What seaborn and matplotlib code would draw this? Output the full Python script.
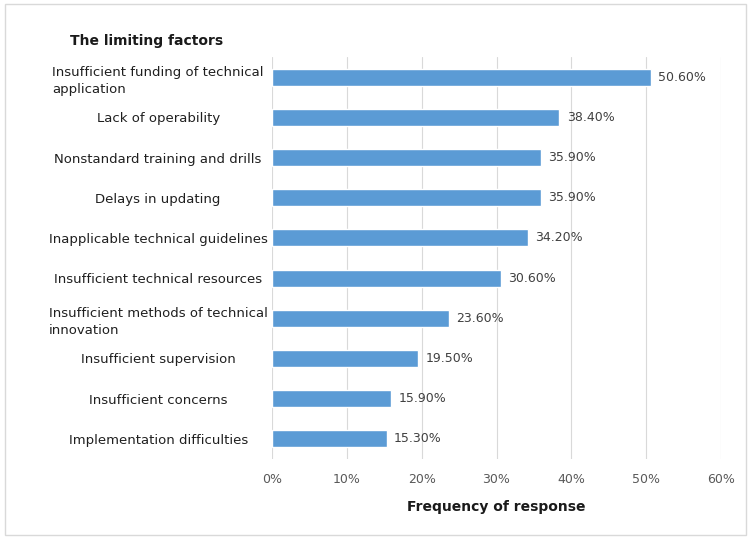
import pandas as pd
import seaborn as sns
import matplotlib.pyplot as plt
from matplotlib.patches import Rectangle

# data
factors = [
    "Insufficient funding of technical\napplication",
    "Lack of operability",
    "Nonstandard training and drills",
    "Delays in updating",
    "Inapplicable technical guidelines",
    "Insufficient technical resources",
    "Insufficient methods of technical\ninnovation",
    "Insufficient supervision",
    "Insufficient concerns",
    "Implementation difficulties",
]
freq = [50.6, 38.4, 35.9, 35.9, 34.2, 30.6, 23.6, 19.5, 15.9, 15.3]
xticks = [0, 10, 20, 30, 40, 50, 60]

df = pd.DataFrame({"factor": factors, "freq": freq})

sns.set_style("white")
plt.rcParams["font.family"] = ["DejaVu Sans"]

fig = plt.figure(figsize=(7.5, 5.41), dpi=100)
ax = fig.add_axes([0.3627, 0.1516, 0.5986, 0.743])

sns.barplot(data=df, x="freq", y="factor", orient="h", color="#5B9BD5",
            saturation=1, width=0.42, ax=ax)

ax.set_xlim(0, 60)
ax.set_xticks(xticks)
ax.set_xticklabels([f"{t}%" for t in xticks], color="#595959", fontsize=9)
ax.grid(axis="x", color="#D9D9D9", linewidth=0.8)
ax.set_axisbelow(True)
for s in ax.spines.values():
    s.set_visible(False)
ax.tick_params(axis="x", length=0, pad=10)
ax.tick_params(axis="y", length=0, pad=82)
for lab in ax.get_yticklabels():
    lab.set_horizontalalignment("center")
    lab.set_multialignment("left")
    lab.set_linespacing(1.45)
    lab.set_fontsize(9.5)
    lab.set_color("#1f1f1f")

# value labels
for i, v in enumerate(freq):
    ax.text(v + 1.0, i, f"{v:.2f}%", va="center", ha="left",
            fontsize=9, color="#404040")

ax.set_ylabel("")
ax.set_xlabel("Frequency of response", fontsize=10, fontweight="bold",
              color="#1a1a1a", labelpad=10)
fig.text(0.093, 0.924, "The limiting factors", fontsize=10,
         fontweight="bold", color="#1a1a1a", va="center")

fig.patches.append(Rectangle((0.007, 0.011), 0.987, 0.981, transform=fig.transFigure,
                             fill=False, edgecolor="#D9D9D9", linewidth=1))

fig.savefig("out.png", dpi=100)
